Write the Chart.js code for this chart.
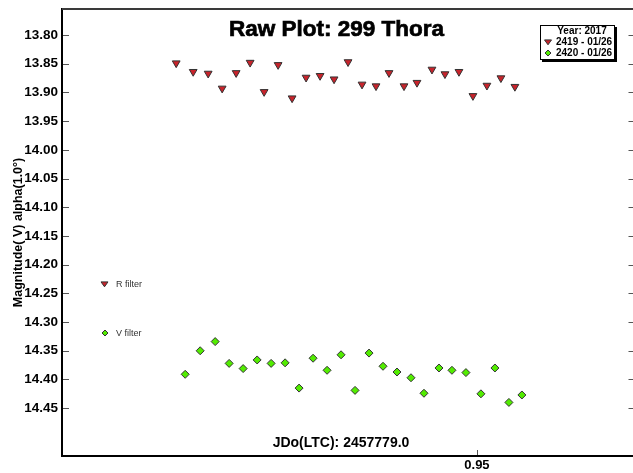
<!DOCTYPE html>
<html>
<head>
<meta charset="utf-8">
<title>Raw Plot: 299 Thora</title>
<script src="https://cdn.jsdelivr.net/npm/chart.js@4.4.0/dist/chart.umd.min.js"></script>
<style>
  html, body { margin: 0; padding: 0; background: #fff; overflow: hidden; }
  #wrap { width: 633px; height: 473px; overflow: hidden; }
</style>
</head>
<body>
<div id="wrap"><canvas id="rawPlot" width="640" height="473"></canvas></div>
<script>
// ====== DATA (JD - 2457779.0, reduced magnitude) ======
const rTimes = [0.9199, 0.9216, 0.9231, 0.9245, 0.9259, 0.9273, 0.9287, 0.9301, 0.9315, 0.9329,
                0.9343, 0.9357, 0.9371, 0.9385, 0.9399, 0.9412, 0.9427, 0.9440, 0.9455, 0.9468,
                0.9482, 0.9496, 0.9510, 0.9524, 0.9538];
const rMags = [13.849, 13.864, 13.867, 13.893, 13.866, 13.848, 13.899, 13.852, 13.910, 13.874,
               13.871, 13.877, 13.847, 13.886, 13.889, 13.866, 13.889, 13.883, 13.860, 13.868,
               13.864, 13.906, 13.888, 13.875, 13.890];

const vTimes = [0.9208, 0.9223, 0.9238, 0.9252, 0.9266, 0.9280, 0.9294, 0.9308, 0.9322, 0.9336,
                0.9350, 0.9364, 0.9378, 0.9392, 0.9406, 0.9420, 0.9434, 0.9447, 0.9462, 0.9475,
                0.9489, 0.9504, 0.9518, 0.9532, 0.9545];
const vMags = [14.391, 14.350, 14.334, 14.372, 14.381, 14.366, 14.372, 14.371, 14.415, 14.363,
               14.384, 14.357, 14.419, 14.354, 14.377, 14.387, 14.397, 14.424, 14.380, 14.384,
               14.388, 14.425, 14.380, 14.440, 14.427];

const magTicks = [13.80, 13.85, 13.90, 13.95, 14.00, 14.05, 14.10, 14.15, 14.20, 14.25, 14.30, 14.35, 14.40, 14.45];
const timeTicks = [0.95];

const titleText = "Raw Plot: 299 Thora";
const xTitle = "JDo(LTC): 2457779.0";
const yTitle = "Magnitude( V) alpha(1.0°)";
const legendTitle = "Year: 2017";
const sessionLabels = ["2419 - 01/26", "2420 - 01/26"];
const filterLabels = ["R filter", "V filter"];

const FONT = '"Liberation Sans", Arial, sans-serif';
const RED = "#c8232b";
const GREEN = "#52ec00";

// small marker helpers for the hand-drawn legends
function downTriangle(ctx, x, y, r) {
  ctx.beginPath();
  ctx.moveTo(x - r, y - r * 0.6);
  ctx.lineTo(x + r, y - r * 0.6);
  ctx.lineTo(x, y + r * 0.8);
  ctx.closePath();
  ctx.fillStyle = RED; ctx.fill();
  ctx.strokeStyle = "#333"; ctx.lineWidth = 1; ctx.stroke();
}
function diamond(ctx, x, y, r) {
  ctx.beginPath();
  ctx.moveTo(x, y - r); ctx.lineTo(x + r, y); ctx.lineTo(x, y + r); ctx.lineTo(x - r, y);
  ctx.closePath();
  ctx.fillStyle = GREEN; ctx.fill();
  ctx.strokeStyle = "#333"; ctx.lineWidth = 1; ctx.stroke();
}

// ====== FRAME, INWARD TICKS, TITLES, LEGENDS ======
const framePlugin = {
  id: "frame",
  afterDraw(chart) {
    const { ctx, chartArea: a, scales: { x, y } } = chart;
    ctx.save();

    // top + right frame
    ctx.strokeStyle = "#3a3a3a";
    ctx.lineWidth = 2;
    ctx.beginPath();
    ctx.moveTo(a.left, a.top);
    ctx.lineTo(a.right, a.top);
    ctx.lineTo(a.right, a.bottom);
    ctx.stroke();

    // inward ticks (left + mirrored right)
    ctx.strokeStyle = "#555";
    ctx.lineWidth = 1;
    magTicks.forEach(v => {
      const py = Math.round(y.getPixelForValue(v)) + 0.5;
      ctx.beginPath();
      ctx.moveTo(a.left + 1, py); ctx.lineTo(a.left + 7, py);
      ctx.moveTo(a.right - 6, py); ctx.lineTo(a.right, py);
      ctx.stroke();
    });
    timeTicks.forEach(v => {
      const px = Math.round(x.getPixelForValue(v)) + 0.5;
      ctx.beginPath();
      ctx.moveTo(px, a.bottom - 6); ctx.lineTo(px, a.bottom - 1);
      ctx.stroke();
    });

    // chart title (sits inside the plot), a touch heavier than plain bold
    ctx.fillStyle = "#000";
    ctx.strokeStyle = "#000";
    ctx.textAlign = "center";
    ctx.textBaseline = "middle";
    ctx.font = "bold 22.5px " + FONT;
    ctx.fillText(titleText, 336.5, 30);
    ctx.lineWidth = 0.7;
    ctx.strokeText(titleText, 336.5, 30);

    // x axis title (also inside the plot)
    ctx.font = "bold 14px " + FONT;
    ctx.fillText(xTitle, 341, 443);

    // session legend box, top right
    ctx.fillStyle = "#000";
    ctx.fillRect(542, 27, 75, 35);
    ctx.fillStyle = "#fff";
    ctx.fillRect(540, 25, 75, 35);
    ctx.strokeStyle = "#000";
    ctx.lineWidth = 1;
    ctx.strokeRect(540.5, 25.5, 74, 34);
    ctx.fillStyle = "#000";
    ctx.font = "bold 10px " + FONT;
    ctx.fillText(legendTitle, 582, 31.5);
    ctx.textAlign = "left";
    downTriangle(ctx, 548, 42, 3.5);
    diamond(ctx, 548, 53, 3);
    ctx.fillStyle = "#000";
    ctx.font = "bold 10px " + FONT;
    ctx.fillText(sessionLabels[0], 556, 42);
    ctx.fillText(sessionLabels[1], 556, 53);

    // filter legend, left middle
    downTriangle(ctx, 104.5, 284, 3.5);
    diamond(ctx, 105, 333, 3);
    ctx.fillStyle = "#333";
    ctx.font = "9px " + FONT;
    ctx.fillText(filterLabels[0], 116, 285);
    ctx.fillText(filterLabels[1], 116, 334);

    ctx.restore();
  }
};

const xMin = 0.90847;
const xMax = 0.96577;
const yMin = 13.7547;
const yMax = 14.5333;

new Chart(document.getElementById("rawPlot").getContext("2d"), {
  type: "scatter",
  data: {
    datasets: [
      {
        label: sessionLabels[0],
        data: rTimes.map((t, i) => ({ x: t, y: rMags[i] })),
        pointStyle: "triangle",
        rotation: 180,
        pointRadius: 4.5,
        backgroundColor: RED,
        borderColor: "#333",
        borderWidth: 1
      },
      {
        label: sessionLabels[1],
        data: vTimes.map((t, i) => ({ x: t, y: vMags[i] })),
        pointStyle: "rectRot",
        pointRadius: 4,
        backgroundColor: GREEN,
        borderColor: "#333",
        borderWidth: 1
      }
    ]
  },
  options: {
    responsive: false,
    devicePixelRatio: 1,
    animation: false,
    layout: { padding: { top: 9, right: 5, left: 0, bottom: 0 } },
    plugins: {
      legend: { display: false },
      tooltip: { enabled: false }
    },
    scales: {
      x: {
        type: "linear",
        position: "bottom",
        min: xMin,
        max: xMax,
        afterFit: s => { s.height = 17; s.paddingLeft = 0; s.paddingRight = 0; },
        afterBuildTicks: s => { s.ticks = timeTicks.map(v => ({ value: v })); },
        grid: { display: false, drawTicks: false },
        border: { display: true, color: "#000", width: 2 },
        ticks: {
          autoSkip: false,
          maxRotation: 0,
          padding: 2,
          color: "#000",
          font: { family: FONT, size: 13, weight: "bold" },
          callback: v => v.toFixed(2)
        }
      },
      y: {
        type: "linear",
        position: "left",
        reverse: true,
        min: yMin,
        max: yMax,
        afterFit: s => { s.width = 62; s.paddingTop = 0; s.paddingBottom = 0; },
        afterBuildTicks: s => { s.ticks = magTicks.map(v => ({ value: v })); },
        grid: { display: false, drawTicks: false },
        border: { display: true, color: "#000", width: 2 },
        ticks: {
          autoSkip: false,
          padding: 4,
          color: "#000",
          font: { family: FONT, size: 13.5, weight: "bold" },
          callback: v => v.toFixed(2)
        },
        title: {
          display: true,
          text: yTitle,
          color: "#000",
          padding: { top: 11, bottom: 0 },
          font: { family: FONT, size: 12.5, weight: "bold" }
        }
      }
    }
  },
  plugins: [framePlugin]
});
</script>
</body>
</html>
